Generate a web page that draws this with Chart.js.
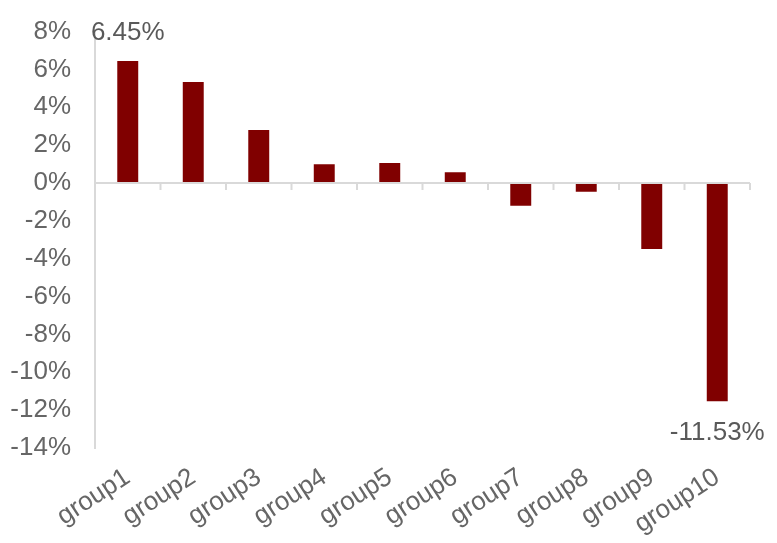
<!DOCTYPE html>
<html>
<head>
<meta charset="utf-8">
<script src="https://cdn.jsdelivr.net/npm/chart.js@4/dist/chart.umd.min.js"></script>
<style>
  html, body { margin: 0; padding: 0; background: #fff; }
  #wrap { width: 777px; height: 543px; }
</style>
</head>
<body>
<div id="wrap"><canvas id="barChart" width="777" height="543"></canvas></div>
<script>
    // values (percent)
    const groups = ['group1', 'group2', 'group3', 'group4', 'group5', 'group6', 'group7', 'group8', 'group9', 'group10'];
    const returns = [6.45, 5.34, 2.80, 0.99, 1.06, 0.57, -1.20, -0.46, -3.49, -11.53];
    const labelledBars = [0, 9];
    const yTicks = [8, 6, 4, 2, 0, -2, -4, -6, -8, -10, -12, -14];

    const fontFamily = '"Liberation Sans", Arial, Helvetica, sans-serif';
    const axisGrey = '#d9d9d9';

    // zero line with little tick marks at the category boundaries
    const zeroLinePlugin = {
        id: 'zeroLine',
        afterDatasetsDraw(chart) {
            const ctx = chart.ctx;
            const x = chart.scales.x;
            const y0 = chart.scales.y.getPixelForValue(0);
            const half = (x.getPixelForValue(1) - x.getPixelForValue(0)) / 2;
            ctx.save();
            ctx.strokeStyle = axisGrey;
            ctx.lineWidth = 2;
            ctx.beginPath();
            ctx.moveTo(chart.chartArea.left, y0);
            ctx.lineTo(chart.chartArea.right, y0);
            for (let i = 0; i < groups.length; i++) {
                const bx = x.getPixelForValue(i) + half;
                ctx.moveTo(bx, y0);
                ctx.lineTo(bx, y0 + 7);
            }
            ctx.stroke();
            ctx.restore();
        }
    };

    const valueLabelPlugin = {
        id: 'valueLabels',
        afterDatasetsDraw(chart) {
            const ctx = chart.ctx;
            const meta = chart.getDatasetMeta(0);
            ctx.save();
            ctx.font = '26px ' + fontFamily;
            ctx.fillStyle = '#595959';
            ctx.textAlign = 'center';
            ctx.textBaseline = 'middle';
            labelledBars.forEach(function (i) {
                const bar = meta.data[i];
                const v = returns[i];
                const off = v >= 0 ? -28 : 32;
                ctx.fillText(v.toFixed(2) + '%', bar.x, bar.y + off);
            });
            ctx.restore();
        }
    };

    const ctx = document.getElementById('barChart').getContext('2d');
    new Chart(ctx, {
        type: 'bar',
        data: {
            labels: groups,
            datasets: [{
                data: returns,
                backgroundColor: '#800000',
                borderWidth: 0,
                barPercentage: 0.32,
                categoryPercentage: 1
            }]
        },
        options: {
            responsive: false,
            animation: false,
            layout: { padding: { top: 19, right: 27, left: 0, bottom: 0 } },
            plugins: {
                legend: { display: false },
                tooltip: { enabled: false }
            },
            scales: {
                x: {
                    grid: { display: false },
                    border: { display: false },
                    ticks: {
                        color: '#666',
                        font: { family: fontFamily, size: 26 },
                        minRotation: 33,
                        maxRotation: 33,
                        padding: 6,
                        autoSkip: false
                    },
                    afterFit(scale) { scale.height = 95; }
                },
                y: {
                    min: -14,
                    max: 8,
                    afterBuildTicks(scale) {
                        scale.ticks = yTicks.map(v => ({ value: v }));
                    },
                    grid: { display: false },
                    border: { display: true, color: axisGrey, width: 2 },
                    ticks: {
                        color: '#666',
                        font: { family: fontFamily, size: 26 },
                        padding: 16,
                        callback: v => v + '%'
                    },
                    afterFit(scale) { scale.width = 95; }
                }
            }
        },
        plugins: [zeroLinePlugin, valueLabelPlugin]
    });
</script>
</body>
</html>
